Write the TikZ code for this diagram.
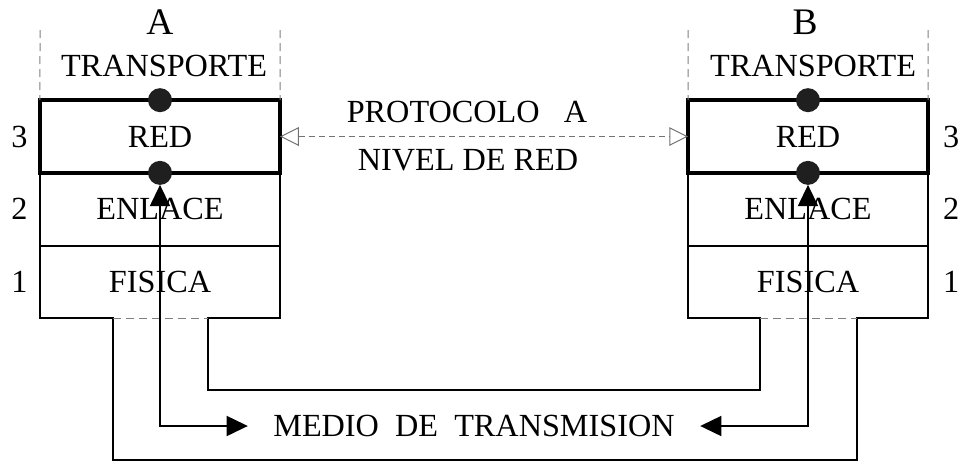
\documentclass[tikz,border=0pt]{standalone}
\usepackage{fontspec}
\setmainfont{Liberation Serif}
\usepackage{tikz}
\usetikzlibrary{arrows.meta,positioning}
\tikzstyle{layer} = [rectangle, draw, line width=0.8pt, outer sep=0pt,
    minimum width=96pt, minimum height=29.08pt, text centered]
\tikzstyle{redlayer} = [layer, line width=1.6pt]
\tikzstyle{fislayer} = [rectangle, outer sep=0pt,
    minimum width=96pt, minimum height=29.08pt, text centered]
\tikzstyle{wire} = [draw, line width=0.8pt]
\tikzstyle{guide} = [draw, gray, line width=0.4pt, dash pattern=on 3.2pt off 2pt]
\tikzstyle{proto} = [draw, black!55, line width=0.4pt, dash pattern=on 2.4pt off 1.6pt,
    {Triangle[open, length=7.5pt, width=7.5pt]}-{Triangle[open, length=7.5pt, width=7.5pt]}]
\tikzstyle{punto} = [circle, fill=black!88, minimum size=9.6pt, inner sep=0pt]
\tikzstyle{sap} = [wire, {Triangle[length=8.5pt, width=8pt]}-{Triangle[length=8.5pt, width=8pt]}]

\begin{document}
\begin{tikzpicture}[x=0.4pt, y=-0.4pt, font=\fontsize{12.9}{15}\selectfont]
    \useasboundingbox (0,0) rectangle (959,461);
    % Place nodes
    \node [redlayer] (redA) at (160,136.5) {RED};
    \node [layer, below = 0pt of redA] (enlA) {ENLACE};
    \node [fislayer, below = 0pt of enlA] (fisA) {FISICA};
    \node [redlayer] (redB) at (808,136.5) {RED};
    \node [layer, below = 0pt of redB] (enlB) {ENLACE};
    \node [fislayer, below = 0pt of enlB] (fisB) {FISICA};
    \node (hostA) at (160,22) {\fontsize{15}{17}\selectfont A};
    \node (hostB) at (805,22) {\fontsize{15}{17}\selectfont B};
    \node (trA) at (164,66) {TRANSPORTE};
    \node (trB) at (813,66) {TRANSPORTE};
    \node [left = 1.5pt of redA] (n3A) {3};
    \node [left = 1.5pt of enlA] (n2A) {2};
    \node [left = 1.5pt of fisA] (n1A) {1};
    \node [right = 2.5pt of redB] (n3B) {3};
    \node [right = 2.5pt of enlB] (n2B) {2};
    \node [right = 2.5pt of fisB] (n1B) {1};
    \node (prot) at (467,112) {PROTOCOLO\ \ \ A};
    \node (nivel) at (468,160) {NIVEL DE RED};
    \node [inner xsep=10pt] (medio) at (474,426) {MEDIO\enspace DE\enspace TRANSMISION};
    % Guides above the stacks
    \coordinate (topAl) at (40,30);
    \coordinate (topAr) at (280,30);
    \coordinate (topBl) at (688,30);
    \coordinate (topBr) at (928,30);
    \path [guide] (topAl) -- (redA.north west);
    \path [guide] (topAr) -- (redA.north east);
    \path [guide] (topBl) -- (redB.north west);
    \path [guide] (topBr) -- (redB.north east);
    % Wires of the medium
    \coordinate (txA) at ([xshift=29.2pt]fisA.south west);
    \coordinate (rxA) at ([xshift=-28.8pt]fisA.south east);
    \coordinate (rxB) at ([xshift=28.8pt]fisB.south west);
    \coordinate (txB) at ([xshift=-28.4pt]fisB.south east);
    \coordinate (lowA) at ([yshift=-56.7pt]txA);
    \coordinate (midA) at ([yshift=-28.7pt]rxA);
    \path [wire] (fisA.north west) |- (txA) -- (lowA) -| (txB) -| (fisB.north east);
    \path [wire] (fisA.north east) |- (rxA) -- (midA) -| (rxB) -| (fisB.north west);
    \path [guide] (txA) -- (rxA);
    \path [guide] (rxB) -- (txB);
    % Access points of the network layer
    \path [sap] (redA.south) ++(0,12) |- (medio.west);
    \path [sap] (redB.south) ++(0,12) |- (medio.east);
    \node [punto] (upA) at (redA.north) {};
    \node [punto] (downA) at (redA.south) {};
    \node [punto] (upB) at (redB.north) {};
    \node [punto] (downB) at (redB.south) {};
    \path [proto] (redA.east) -- (redB.west);
\end{tikzpicture}
\end{document}
